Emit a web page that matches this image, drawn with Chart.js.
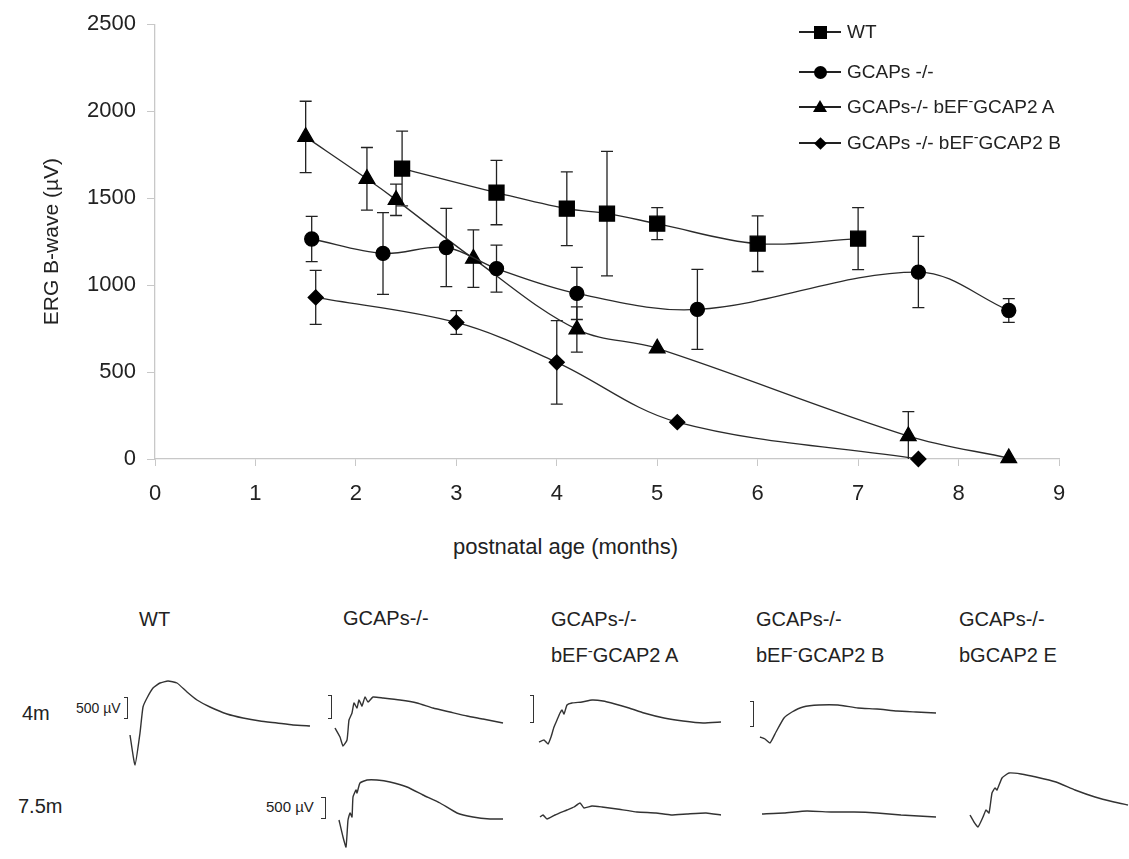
<!DOCTYPE html>
<html>
<head>
<meta charset="utf-8">
<script src="https://cdn.jsdelivr.net/npm/chart.js@4.4.0/dist/chart.umd.min.js"></script>
<style>
  html, body { margin:0; padding:0; background:#fff; overflow:hidden; }
  body { width:1129px; height:859px; position:relative; font-family:'Liberation Sans', Arial, sans-serif; color:#222; }
  canvas { position:absolute; }
  .t { position:absolute; white-space:nowrap; line-height:1; }
  .sup { position:relative; top:-0.42em; font-size:0.75em; }
  .brk { position:absolute; border:1.5px solid #333; border-left:none; width:3px; }
  .leg { position:absolute; left:799px; height:24px; display:flex; align-items:center; font-size:19px; }
  .leg .ln { position:relative; width:42px; height:1.5px; background:#222; margin-right:6px; }
  .leg .mk { position:absolute; left:50%; top:50%; background:#000; }
  .sq { width:13px; height:13px; margin:-6.5px 0 0 -6.5px; }
  .ci { width:13px; height:13px; margin:-6.5px 0 0 -6.5px; border-radius:50%; }
  .tr { width:0 !important; height:0; background:none !important; border-left:7px solid transparent; border-right:7px solid transparent; border-bottom:12px solid #000; margin:-7px 0 0 -7px; }
  .di { width:9px; height:9px; margin:-4.5px 0 0 -4.5px; transform:rotate(45deg); }
</style>
</head>
<body>
<canvas id="main" width="1129" height="520" style="left:0;top:0"></canvas>

<div class="leg" style="top:20px"><span class="ln"><span class="mk sq"></span></span>WT</div>
<div class="leg" style="top:60px"><span class="ln"><span class="mk ci"></span></span>GCAPs -/-</div>
<div class="leg" style="top:95px"><span class="ln"><span class="mk tr"></span></span>GCAPs-/- bEF<span class="sup">-</span>GCAP2 A</div>
<div class="leg" style="top:131px"><span class="ln"><span class="mk di"></span></span>GCAPs -/- bEF<span class="sup">-</span>GCAP2 B</div>

<div class="t" style="left:453px;top:536px;font-size:22px">postnatal age (months)</div>

<div class="t" style="left:139px;top:609px;font-size:20px">WT</div>
<div class="t" style="left:343px;top:608px;font-size:20px">GCAPs-/-</div>
<div class="t" style="left:551px;top:609px;font-size:20px">GCAPs-/-</div>
<div class="t" style="left:551px;top:645px;font-size:20px">bEF<span class="sup">-</span>GCAP2 A</div>
<div class="t" style="left:756px;top:609px;font-size:20px">GCAPs-/-</div>
<div class="t" style="left:756px;top:645px;font-size:20px">bEF<span class="sup">-</span>GCAP2 B</div>
<div class="t" style="left:959px;top:609px;font-size:20px">GCAPs-/-</div>
<div class="t" style="left:959px;top:645px;font-size:20px">bGCAP2 E</div>

<div class="t" style="left:22px;top:703px;font-size:20px">4m</div>
<div class="t" style="left:18px;top:796px;font-size:20px">7.5m</div>
<div class="t" style="left:76px;top:701px;font-size:14px">500 µV</div>
<div class="t" style="left:266px;top:799px;font-size:15px">500 µV</div>

<div class="brk" style="left:124px;top:697px;height:20px"></div>
<div class="brk" style="left:328px;top:695px;height:22px"></div>
<div class="brk" style="left:530px;top:695px;height:26px"></div>
<div class="brk" style="left:750px;top:701px;height:24px"></div>
<div class="brk" style="left:321px;top:797px;height:20px;width:4px"></div>

<script>
// b-wave amplitude (uV) vs postnatal age (months), with error bars
var wtAge = [2.46, 3.4, 4.1, 4.5, 5.0, 6.0, 7.0];
var wtB   = [1670, 1532, 1439, 1411, 1353, 1238, 1267];
var wtErr = [215, 185, 212, 358, 92, 160, 178];

var koAge = [1.56, 2.27, 2.9, 3.4, 4.2, 5.4, 7.6, 8.5];
var koB   = [1265, 1182, 1216, 1095, 952, 860, 1075, 854];
var koErr = [130, 235, 225, 135, 150, 230, 205, 68];

var aAge = [1.5, 2.11, 2.4, 3.17, 4.2, 5.0, 7.5, 8.5];
var aB   = [1852, 1611, 1490, 1152, 745, 636, 132, 5];
var aErr = [205, 180, 90, 165, 130, 0, 140, 0];

var bAge = [1.6, 3.0, 4.0, 5.2, 7.6];
var bB   = [929, 785, 556, 212, 0];
var bErr = [155, 68, 240, 0, 0];

var yTicks = [0, 500, 1000, 1500, 2000, 2500];
var xTicks = [0, 1, 2, 3, 4, 5, 6, 7, 8, 9];

// ERG traces: time (ms) and amplitude (uV) relative to start
var wt4mT = [0,5,10,13,17,23,30,38,47,57,67,80,97,113,130,147,163,180];
var wt4mV = [0,-750,50,700,925,1175,1300,1350,1300,1075,875,700,525,425,350,300,250,225];
var ko4mT = [0,5,8,12,14,17,19,22,24,27,30,33,38,48,65,82,98,115,132,148,168];
var ko4mV = [0,-225,-450,-300,200,375,625,500,700,550,775,650,775,750,700,625,500,400,300,225,125];
var ko75T = [0,4,7,9,11,13,14,17,18,21,28,38,51,68,84,101,118,134,151,164];
var ko75V = [0,-425,-675,0,175,75,575,750,675,925,1000,1000,950,825,625,425,175,75,25,25];
var a4mT = [0,5,9,12,15,18,21,23,25,28,33,43,53,64,76,90,105,125,144,164,182];
var a4mV = [0,50,-50,125,375,550,725,800,700,925,975,1000,1050,1025,950,850,725,600,525,475,500];
var a75T = [0,3,7,15,27,34,40,44,52,62,77,97,116,131,147,166,181];
var a75V = [0,50,-50,50,175,250,350,225,275,250,200,125,100,50,75,100,50];
var b4mT = [0,5,10,16,24,32,43,59,78,98,117,137,156,176];
var b4mV = [0,-50,-150,125,475,625,750,800,800,725,700,650,625,600];
var b75T = [0,22,45,69,92,115,139,174];
var b75V = [0,25,75,50,50,25,-25,-75];
var e75T = [0,4,8,13,16,19,22,25,27,32,39,51,66,86,105,125,144,158];
var e75V = [0,-175,-300,-50,125,50,550,675,625,925,1050,1025,950,825,625,450,325,250];

Chart.defaults.font.family = "'Liberation Sans', Arial, sans-serif";
Chart.defaults.color = '#222';

function pts(xs, ys){
    var out = [];
    for(var i = 0; i < xs.length; i++){
        out.push({x: xs[i], y: ys[i]});
    }
    return out;
}

function series(label, xs, ys, err, shape, r){
    return {
        label: label,
        data: pts(xs, ys),
        err: err,
        borderColor: '#2b2b2b',
        borderWidth: 1.3,
        backgroundColor: '#000',
        pointBackgroundColor: '#000',
        pointBorderColor: '#000',
        pointStyle: shape,
        pointRadius: r,
        tension: 0.35,
        clip: false
    };
}

var errorBars = {
    id: 'errorBars',
    beforeDatasetsDraw: function(chart){
        var ctx = chart.ctx;
        var xs = chart.scales.x, ys = chart.scales.y;
        var area = chart.chartArea;
        ctx.save();
        ctx.strokeStyle = '#222';
        ctx.lineWidth = 1.3;
        chart.data.datasets.forEach(function(ds){
            ds.data.forEach(function(p, i){
                var e = ds.err[i];
                if(!e){ return; }
                var px = xs.getPixelForValue(p.x);
                var top = ys.getPixelForValue(p.y + e);
                var bot = Math.min(ys.getPixelForValue(p.y - e), area.bottom);
                ctx.beginPath();
                ctx.moveTo(px, top); ctx.lineTo(px, bot);
                ctx.moveTo(px - 6, top); ctx.lineTo(px + 6, top);
                if(bot < area.bottom){
                    ctx.moveTo(px - 6, bot); ctx.lineTo(px + 6, bot);
                }
                ctx.stroke();
            });
        });
        ctx.restore();
    }
};

new Chart(document.getElementById('main').getContext('2d'), {
    type: 'line',
    data: {
        datasets: [
            series('WT', wtAge, wtB, wtErr, 'rect', 10.6),
            series('GCAPs -/-', koAge, koB, koErr, 'circle', 7),
            series('GCAPs-/- bEF-GCAP2 A', aAge, aB, aErr, 'triangle', 9),
            series('GCAPs -/- bEF-GCAP2 B', bAge, bB, bErr, 'rectRot', 7.5)
        ]
    },
    options: {
        responsive: false,
        animation: false,
        layout: { padding: { left: 0, right: 70, top: 23, bottom: 0 } },
        plugins: { legend: { display: false }, tooltip: { enabled: false } },
        scales: {
            x: {
                type: 'linear', min: 0, max: 9,
                afterFit: function(s){ s.height = 61; },
                afterBuildTicks: function(s){ s.ticks = xTicks.map(function(v){ return {value: v}; }); },
                grid: { drawOnChartArea: false, color: '#c8c8c8', tickLength: 7 },
                border: { color: '#c8c8c8', width: 1.3 },
                ticks: { font: { size: 22 }, padding: 15, color: '#222', callback: function(v){ return String(v); } }
            },
            y: {
                min: 0, max: 2500,
                afterFit: function(s){ s.width = 155; },
                afterBuildTicks: function(s){ s.ticks = yTicks.map(function(v){ return {value: v}; }); },
                grid: { drawOnChartArea: false, color: '#c8c8c8', tickLength: 8 },
                border: { color: '#c8c8c8', width: 1.3 },
                ticks: { font: { size: 22 }, padding: 11, color: '#222', callback: function(v){ return String(v); } },
                title: { display: true, text: 'ERG B-wave (µV)', font: { size: 21 }, color: '#222', padding: { top: 40, bottom: 0 } }
            }
        }
    },
    plugins: [errorBars]
});

// small ERG trace charts, 1 ms per px and 25 uV per px
function trace(sx, sy, w, ts, vs){
    var c = document.createElement('canvas');
    c.width = w; c.height = 100;
    c.style.left = (sx - 4) + 'px';
    c.style.top = (sy - 60) + 'px';
    document.body.appendChild(c);
    new Chart(c.getContext('2d'), {
        type: 'line',
        data: { datasets: [{ data: pts(ts, vs), borderColor: '#333', borderWidth: 1.4, pointRadius: 0, tension: 0.15, clip: false }] },
        options: {
            responsive: false,
            animation: false,
            layout: { padding: 0 },
            plugins: { legend: { display: false }, tooltip: { enabled: false } },
            scales: {
                x: { type: 'linear', display: false, min: -4, max: w - 4 },
                y: { display: false, min: -1000, max: 1500 }
            }
        }
    });
}

trace(130, 735, 200, wt4mT, wt4mV);
trace(335, 728, 200, ko4mT, ko4mV);
trace(339, 820, 200, ko75T, ko75V);
trace(539, 742, 200, a4mT, a4mV);
trace(540, 817, 200, a75T, a75V);
trace(760, 737, 200, b4mT, b4mV);
trace(762, 814, 200, b75T, b75V);
trace(970, 815, 163, e75T, e75V);
</script>
</body>
</html>
